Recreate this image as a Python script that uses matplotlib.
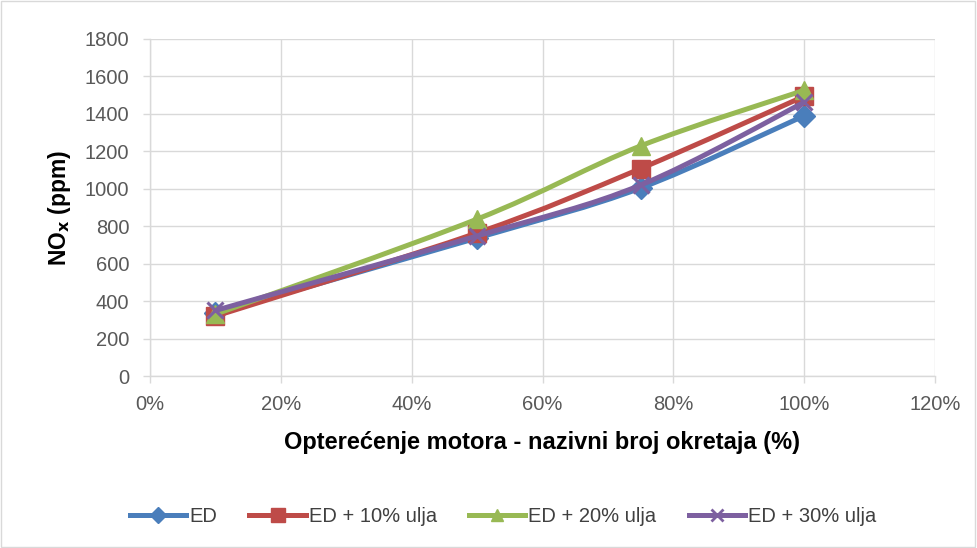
import matplotlib
matplotlib.use("Agg")
import matplotlib.pyplot as plt
import numpy as np
from matplotlib.path import Path
from matplotlib.patches import PathPatch
from matplotlib.lines import Line2D
from matplotlib.ticker import FuncFormatter

plt.rcParams['font.family'] = ['Liberation Sans', 'DejaVu Sans']

load = [10, 50, 75, 100]
series_names = ["ED", "ED + 10% ulja", "ED + 20% ulja", "ED + 30% ulja"]
ed = [335, 737, 1004, 1390]
ed10 = [320, 764, 1108, 1494]
ed20 = [330, 838, 1229, 1526]
ed30 = [350, 748, 1020, 1462]

colors = ["#4a7ebb", "#be4b48", "#98b954", "#7d60a0"]
markers = ["D", "s", "^", "x"]
msizes = [11, 13, 13, 11]
leg_ms = [8, 10, 9, 8]


def smooth_path(xs, ys):
    # Excel-like smoothed line: cubic Bezier segments (Catmull-Rom tangents)
    pts = np.column_stack([xs, ys]).astype(float)
    n = len(pts)
    verts = [pts[0]]
    codes = [Path.MOVETO]
    for i in range(n - 1):
        p0 = pts[i - 1] if i > 0 else pts[i]
        p1, p2 = pts[i], pts[i + 1]
        p3 = pts[i + 2] if i + 2 < n else pts[i + 1]
        c1 = p1 + (p2 - p0) / 6.0
        c2 = p2 - (p3 - p1) / 6.0
        verts += [c1, c2, p2]
        codes += [Path.CURVE4] * 3
    return Path(verts, codes)


fig = plt.figure(figsize=(9.77, 5.48), dpi=100)
ax = fig.add_axes([150 / 977, 1 - 376 / 548, 785 / 977, 337 / 548])

# each series (line + markers) drawn on top of the previous one
for k, (vals, c, m, ms) in enumerate(zip([ed, ed10, ed20, ed30], colors, markers, msizes)):
    z = 3 + k
    ax.add_patch(PathPatch(smooth_path(load, vals), fill=False, ec=c, lw=3.6,
                           capstyle="round", joinstyle="round", zorder=z))
    if m == "x":
        ax.plot(load, vals, ls="none", marker=m, ms=ms, mec=c, mew=2.2, zorder=z + 0.5)
    else:
        ax.plot(load, vals, ls="none", marker=m, ms=ms, mfc=c, mec=c, zorder=z + 0.5)

ax.set_xlim(0, 120)
ax.set_ylim(0, 1800)
ax.set_xticks(np.arange(0, 121, 20))
ax.set_yticks(np.arange(0, 1801, 200))
ax.xaxis.set_major_formatter(FuncFormatter(lambda v, p: f"{v:.0f}%"))
ax.grid(True, color="#d9d9d9", lw=1)
ax.set_axisbelow(True)
for s in ["top", "right"]:
    ax.spines[s].set_visible(False)
for s in ["left", "bottom"]:
    ax.spines[s].set_color("#d9d9d9")
    ax.spines[s].set_linewidth(1)
ax.tick_params(colors="#d9d9d9", labelcolor="#595959", labelsize=14.5, length=5, width=1)
ax.tick_params(axis="x", pad=9)
ax.tick_params(axis="y", pad=10)

ax.set_xlabel("Opterećenje motora - nazivni broj okretaja (%)", fontsize=17,
              fontweight="bold", color="black", labelpad=12)
ax.set_ylabel("NO$_\\mathbf{x}$ (ppm)", fontsize=16.5, fontweight="bold", color="black", labelpad=8)

handles = []
for c, m, ms in zip(colors, markers, leg_ms):
    if m == "x":
        h = Line2D([], [], color=c, lw=3.6, marker=m, ms=ms, mec=c, mew=2)
    else:
        h = Line2D([], [], color=c, lw=3.6, marker=m, ms=ms, mfc=c, mec=c)
    handles.append(h)
fig.legend(handles, series_names, loc="center", bbox_to_anchor=(0.515, 1 - 517 / 548), ncol=4,
           frameon=False, fontsize=14.5, labelcolor="#404040", handlelength=2.8,
           handletextpad=0.15, columnspacing=1.6)

fig.patches.append(plt.Rectangle((0.001, 0.001), 0.997, 0.997, transform=fig.transFigure,
                                 fill=False, ec="#d9d9d9", lw=1))
fig.savefig("out.png", dpi=100, facecolor="white")
